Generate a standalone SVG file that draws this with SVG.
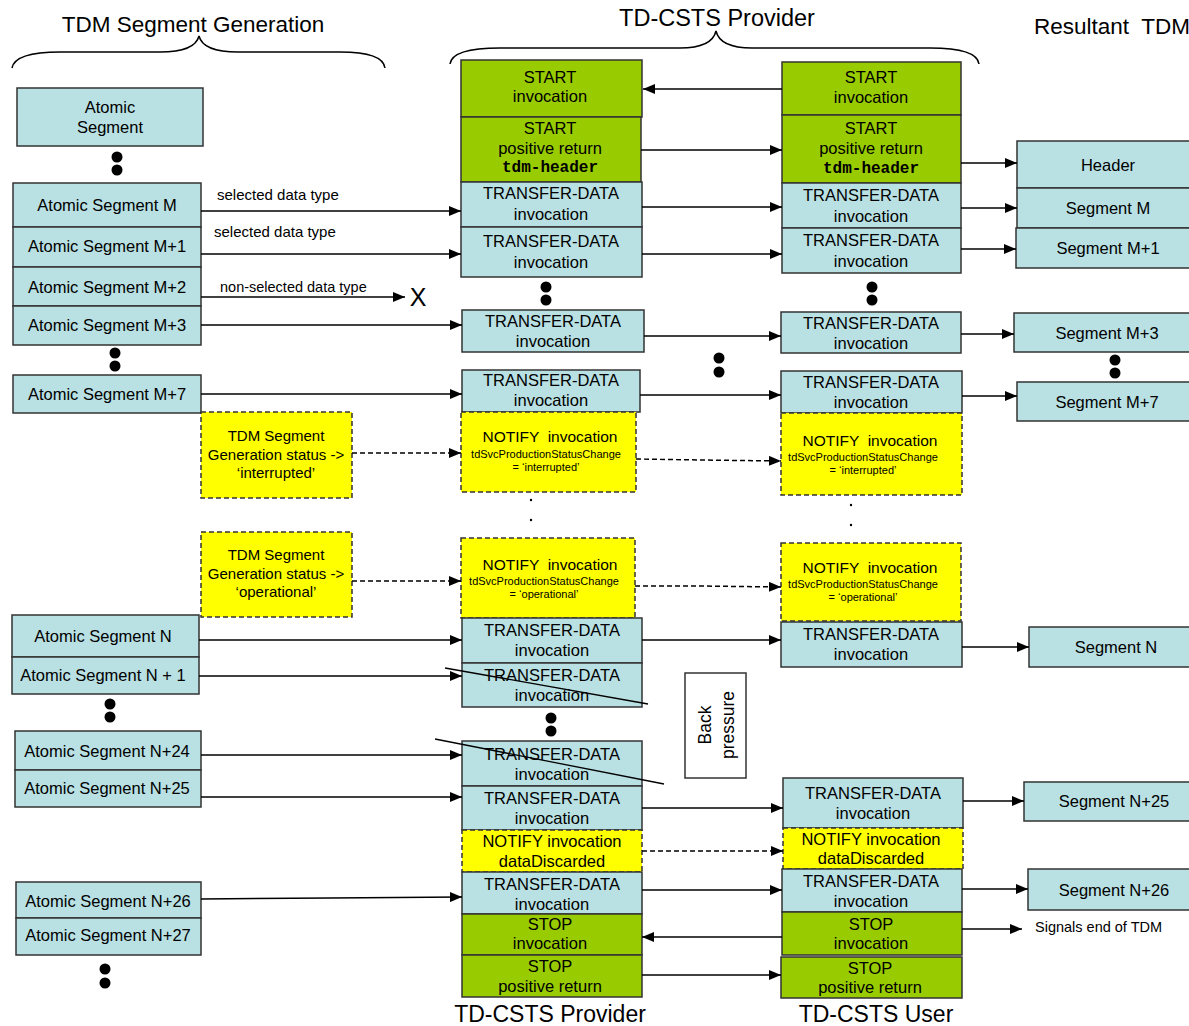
<svg xmlns="http://www.w3.org/2000/svg" width="1189" height="1026" viewBox="0 0 1189 1026">
<style>
text{font-family:"Liberation Sans",Arial,sans-serif;fill:#000}
.b{fill:#B9E0E3;stroke:#333;stroke-width:1.5}
.g{fill:#99CC00;stroke:#333;stroke-width:1.5}
.y{fill:#FFFF00;stroke:#333;stroke-width:1.5;stroke-dasharray:5,3}
.t{font-size:16.5px;text-anchor:middle}
.n{font-size:15.5px;text-anchor:middle}
.s{font-size:15px}
.sm{font-size:11px;text-anchor:middle}
.h{font-size:22.5px;text-anchor:middle}
.mono{font-family:"Liberation Mono","Courier New",monospace;font-weight:bold;font-size:16px;text-anchor:middle}
.a{stroke:#000;stroke-width:1.5;fill:none;marker-end:url(#ah)}
.d{stroke:#000;stroke-width:1.5;fill:none;stroke-dasharray:5,3;marker-end:url(#ah)}
.dot{fill:#000}
</style>
<defs>
<marker id="ah" viewBox="0 0 12 10" refX="12" refY="5" markerWidth="12" markerHeight="10" markerUnits="userSpaceOnUse" orient="auto">
<path d="M0,0 L12,5 L0,10 z" fill="#000"/>
</marker>
</defs>
<rect width="1189" height="1026" fill="#fff"/>

<g id="headings">
<text class="h" x="193" y="32">TDM Segment Generation</text>
<text class="h" x="717" y="26" style="font-size:23.5px">TD-CSTS Provider</text>
<text class="h" x="1112" y="34" xml:space="preserve">Resultant  TDM</text>
<path d="M12,68 Q15,52 60,52 L160,52 Q195,52 199,36 Q203,52 238,52 L340,52 Q383,52 385,68" fill="none" stroke="#000" stroke-width="1.5"/>
<path d="M450,64 Q452,48 500,48 L680,48 Q712,48 716,31 Q720,48 752,48 L930,48 Q977,48 979,64" fill="none" stroke="#000" stroke-width="1.5"/>
<text x="550" y="1022" style="font-size:23px;text-anchor:middle">TD-CSTS Provider</text>
<text x="876" y="1022" style="font-size:23px;text-anchor:middle">TD-CSTS User</text>
</g>

<g id="left-column">
<g id="atomic-segment"><rect class="b" x="17" y="88" width="186" height="58"/><text class="t" x="110" y="113">Atomic</text><text class="t" x="110" y="133">Segment</text></g>
<circle class="dot" cx="117" cy="157" r="5.5"/><circle class="dot" cx="117" cy="170" r="5.5"/>
<g id="asM"><rect class="b" x="13" y="183" width="188" height="44"/><text class="t" x="107" y="211">Atomic Segment M</text></g>
<g id="asM1"><rect class="b" x="13" y="227" width="188" height="40"/><text class="t" x="107" y="252">Atomic Segment M+1</text></g>
<g id="asM2"><rect class="b" x="13" y="267" width="188" height="39"/><text class="t" x="107" y="293">Atomic Segment M+2</text></g>
<g id="asM3"><rect class="b" x="13" y="306" width="188" height="39"/><text class="t" x="107" y="331">Atomic Segment M+3</text></g>
<circle class="dot" cx="115" cy="353" r="5.5"/><circle class="dot" cx="115" cy="366" r="5.5"/>
<g id="asM7"><rect class="b" x="13" y="375" width="188" height="38"/><text class="t" x="107" y="400">Atomic Segment M+7</text></g>
<g id="gen-int"><rect class="y" x="201" y="412" width="151" height="86"/><text class="s" x="276" y="441" text-anchor="middle">TDM Segment</text><text class="s" x="276" y="460" text-anchor="middle">Generation status -&gt;</text><text class="s" x="276" y="478" text-anchor="middle">‘interrupted’</text></g>
<g id="gen-op"><rect class="y" x="201" y="532" width="151" height="85"/><text class="s" x="276" y="560" text-anchor="middle">TDM Segment</text><text class="s" x="276" y="579" text-anchor="middle">Generation status -&gt;</text><text class="s" x="276" y="597" text-anchor="middle">‘operational’</text></g>
<g id="asN"><rect class="b" x="12" y="615" width="187" height="42"/><text class="t" x="103" y="642">Atomic Segment N</text></g>
<g id="asN1"><rect class="b" x="12" y="657" width="187" height="37"/><text class="t" x="103" y="681">Atomic Segment N + 1</text></g>
<circle class="dot" cx="110" cy="704" r="5.5"/><circle class="dot" cx="110" cy="717" r="5.5"/>
<g id="asN24"><rect class="b" x="15" y="731" width="186" height="39"/><text class="t" x="107" y="757">Atomic Segment N+24</text></g>
<g id="asN25"><rect class="b" x="15" y="770" width="186" height="37"/><text class="t" x="107" y="794">Atomic Segment N+25</text></g>
<g id="asN26"><rect class="b" x="16" y="882" width="185" height="36"/><text class="t" x="108" y="907">Atomic Segment N+26</text></g>
<g id="asN27"><rect class="b" x="16" y="918" width="185" height="37"/><text class="t" x="108" y="941">Atomic Segment N+27</text></g>
<circle class="dot" cx="105" cy="969" r="5.5"/><circle class="dot" cx="105" cy="983" r="5.5"/>
</g>

<g id="provider">
<g id="p-start"><rect class="g" x="461" y="60" width="181" height="57"/><text class="t" x="550" y="83">START</text><text class="t" x="550" y="102">invocation</text></g>
<g id="p-startret"><rect class="g" x="461" y="117" width="180" height="65"/><text class="t" x="550" y="134">START</text><text class="t" x="550" y="154">positive return</text><text class="mono" x="550" y="172">tdm-header</text></g>
<g id="p-tdM"><rect class="b" x="461" y="182" width="181" height="45"/><text class="t" x="551" y="199">TRANSFER-DATA</text><text class="t" x="551" y="220">invocation</text></g>
<g id="p-tdM1"><rect class="b" x="461" y="227" width="181" height="50"/><text class="t" x="551" y="247">TRANSFER-DATA</text><text class="t" x="551" y="268">invocation</text></g>
<circle class="dot" cx="546" cy="287" r="5.5"/><circle class="dot" cx="546" cy="300" r="5.5"/>
<g id="p-tdM3"><rect class="b" x="462" y="310" width="182" height="42"/><text class="t" x="553" y="327">TRANSFER-DATA</text><text class="t" x="553" y="347">invocation</text></g>
<g id="p-tdM7"><rect class="b" x="462" y="370" width="178" height="42"/><text class="t" x="551" y="386">TRANSFER-DATA</text><text class="t" x="551" y="406">invocation</text></g>
<g id="p-notint"><rect class="y" x="461" y="412" width="175" height="80"/><text class="n" x="550" y="442" xml:space="preserve">NOTIFY  invocation</text><text class="sm" x="546" y="458">tdSvcProductionStatusChange</text><text class="sm" x="546" y="471">= ‘interrupted’</text></g>
<circle class="dot" cx="531" cy="500" r="1.2"/><circle class="dot" cx="531" cy="520" r="1.2"/>
<g id="p-notop"><rect class="y" x="461" y="538" width="174" height="80"/><text class="n" x="550" y="570" xml:space="preserve">NOTIFY  invocation</text><text class="sm" x="544" y="585">tdSvcProductionStatusChange</text><text class="sm" x="544" y="598">= ‘operational’</text></g>
<g id="p-tdN"><rect class="b" x="462" y="618" width="180" height="45"/><text class="t" x="552" y="636">TRANSFER-DATA</text><text class="t" x="552" y="656">invocation</text></g>
<g id="p-tdN1"><rect class="b" x="462" y="663" width="180" height="44"/><text class="t" x="552" y="681">TRANSFER-DATA</text><text class="t" x="552" y="701">invocation</text></g>
<circle class="dot" cx="551" cy="718" r="5.5"/><circle class="dot" cx="551" cy="731" r="5.5"/>
<g id="p-tdN24"><rect class="b" x="462" y="741" width="180" height="45"/><text class="t" x="552" y="760">TRANSFER-DATA</text><text class="t" x="552" y="780">invocation</text></g>
<g id="p-tdN25"><rect class="b" x="462" y="786" width="180" height="44"/><text class="t" x="552" y="804">TRANSFER-DATA</text><text class="t" x="552" y="824">invocation</text></g>
<g id="p-notdd"><rect class="y" x="462" y="830" width="180" height="42"/><text class="t" x="552" y="847">NOTIFY invocation</text><text class="t" x="552" y="867">dataDiscarded</text></g>
<g id="p-tdN26"><rect class="b" x="462" y="872" width="180" height="42"/><text class="t" x="552" y="890">TRANSFER-DATA</text><text class="t" x="552" y="910">invocation</text></g>
<g id="p-stop"><rect class="g" x="462" y="914" width="180" height="41"/><text class="t" x="550" y="930">STOP</text><text class="t" x="550" y="949">invocation</text></g>
<g id="p-stopret"><rect class="g" x="462" y="955" width="180" height="42"/><text class="t" x="550" y="972">STOP</text><text class="t" x="550" y="992">positive return</text></g>
</g>

<g id="user">
<g id="u-start"><rect class="g" x="782" y="62" width="179" height="53"/><text class="t" x="871" y="83">START</text><text class="t" x="871" y="103">invocation</text></g>
<g id="u-startret"><rect class="g" x="782" y="115" width="179" height="68"/><text class="t" x="871" y="134">START</text><text class="t" x="871" y="154">positive return</text><text class="mono" x="871" y="173">tdm-header</text></g>
<g id="u-tdM"><rect class="b" x="782" y="183" width="179" height="45"/><text class="t" x="871" y="201">TRANSFER-DATA</text><text class="t" x="871" y="222">invocation</text></g>
<g id="u-tdM1"><rect class="b" x="782" y="228" width="179" height="45"/><text class="t" x="871" y="246">TRANSFER-DATA</text><text class="t" x="871" y="267">invocation</text></g>
<circle class="dot" cx="872" cy="287" r="5.5"/><circle class="dot" cx="872" cy="300" r="5.5"/>
<circle class="dot" cx="719" cy="358" r="5.5"/><circle class="dot" cx="719" cy="372" r="5.5"/>
<g id="u-tdM3"><rect class="b" x="781" y="312" width="180" height="41"/><text class="t" x="871" y="329">TRANSFER-DATA</text><text class="t" x="871" y="349">invocation</text></g>
<g id="u-tdM7"><rect class="b" x="781" y="371" width="181" height="42"/><text class="t" x="871" y="388">TRANSFER-DATA</text><text class="t" x="871" y="408">invocation</text></g>
<g id="u-notint"><rect class="y" x="781" y="413" width="181" height="82"/><text class="n" x="870" y="446" xml:space="preserve">NOTIFY  invocation</text><text class="sm" x="863" y="461">tdSvcProductionStatusChange</text><text class="sm" x="863" y="474">= ‘interrupted’</text></g>
<circle class="dot" cx="851" cy="505" r="1.2"/><circle class="dot" cx="851" cy="525" r="1.2"/>
<g id="u-notop"><rect class="y" x="781" y="543" width="180" height="78"/><text class="n" x="870" y="573" xml:space="preserve">NOTIFY  invocation</text><text class="sm" x="863" y="588">tdSvcProductionStatusChange</text><text class="sm" x="863" y="601">= ‘operational’</text></g>
<g id="u-tdN"><rect class="b" x="781" y="622" width="181" height="45"/><text class="t" x="871" y="640">TRANSFER-DATA</text><text class="t" x="871" y="660">invocation</text></g>
<g id="back-pressure"><rect x="685" y="673" width="61" height="105" fill="#fff" stroke="#333" stroke-width="1.5"/><g transform="translate(715,725) rotate(-90)"><text class="t" x="0" y="-4" style="font-size:17.5px">Back</text><text class="t" x="0" y="19" style="font-size:17.5px">pressure</text></g></g>
<g id="u-tdN25"><rect class="b" x="783" y="778" width="180" height="50"/><text class="t" x="873" y="799">TRANSFER-DATA</text><text class="t" x="873" y="819">invocation</text></g>
<g id="u-notdd"><rect class="y" x="783" y="828" width="180" height="41"/><text class="t" x="871" y="845">NOTIFY invocation</text><text class="t" x="871" y="864">dataDiscarded</text></g>
<g id="u-tdN26"><rect class="b" x="782" y="869" width="180" height="43"/><text class="t" x="871" y="887">TRANSFER-DATA</text><text class="t" x="871" y="907">invocation</text></g>
<g id="u-stop"><rect class="g" x="782" y="912" width="180" height="43"/><text class="t" x="871" y="930">STOP</text><text class="t" x="871" y="949">invocation</text></g>
<g id="u-stopret"><rect class="g" x="781" y="957" width="181" height="41"/><text class="t" x="870" y="974">STOP</text><text class="t" x="870" y="993">positive return</text></g>
</g>

<g id="result">
<g id="r-header"><rect class="b" x="1017" y="141" width="185" height="47"/><text class="t" x="1108" y="171">Header</text></g>
<g id="r-M"><rect class="b" x="1017" y="188" width="185" height="40"/><text class="t" x="1108" y="214">Segment M</text></g>
<g id="r-M1"><rect class="b" x="1016" y="228" width="186" height="40"/><text class="t" x="1108" y="254">Segment M+1</text></g>
<g id="r-M3"><rect class="b" x="1014" y="313" width="188" height="39"/><text class="t" x="1107" y="339">Segment M+3</text></g>
<circle class="dot" cx="1115" cy="360" r="5.5"/><circle class="dot" cx="1115" cy="373" r="5.5"/>
<g id="r-M7"><rect class="b" x="1017" y="382" width="185" height="39"/><text class="t" x="1107" y="408">Segment M+7</text></g>
<g id="r-N"><rect class="b" x="1029" y="627" width="173" height="40"/><text class="t" x="1116" y="653">Segment N</text></g>
<g id="r-N25"><rect class="b" x="1024" y="782" width="178" height="39"/><text class="t" x="1114" y="807">Segment N+25</text></g>
<g id="r-N26"><rect class="b" x="1028" y="869" width="174" height="41"/><text class="t" x="1114" y="896">Segment N+26</text></g>
<text x="1035" y="932" style="font-size:14.5px">Signals end of TDM</text>
</g>

<g id="connectors">
<line class="a" x1="782" y1="89" x2="643" y2="89"/>
<line class="a" x1="641" y1="150" x2="782" y2="150"/>
<line class="a" x1="961" y1="163" x2="1017" y2="163"/>
<line class="a" x1="201" y1="211" x2="461" y2="211"/>
<text class="s" x="217" y="200">selected data type</text>
<line class="a" x1="201" y1="254" x2="461" y2="254"/>
<text class="s" x="214" y="237">selected data type</text>
<line class="a" x1="201" y1="297" x2="405" y2="297"/>
<text x="220" y="292" style="font-size:14.5px">non-selected data type</text>
<text x="418" y="306" style="font-size:25px;text-anchor:middle">X</text>
<line class="a" x1="201" y1="325" x2="462" y2="325"/>
<line class="a" x1="201" y1="394" x2="462" y2="394"/>
<line class="a" x1="642" y1="207" x2="782" y2="207"/>
<line class="a" x1="642" y1="254" x2="782" y2="254"/>
<line class="a" x1="961" y1="208" x2="1017" y2="208"/>
<line class="a" x1="961" y1="249" x2="1016" y2="249"/>
<line class="a" x1="644" y1="336" x2="781" y2="336"/>
<line class="a" x1="961" y1="334" x2="1014" y2="334"/>
<line class="a" x1="640" y1="395" x2="781" y2="395"/>
<line class="a" x1="962" y1="396" x2="1017" y2="396"/>
<line class="d" x1="352" y1="453" x2="461" y2="453"/>
<polyline class="d" points="636,459 700,460 781,461"/>
<line class="d" x1="352" y1="581" x2="461" y2="581"/>
<polyline class="d" points="635,586 700,586 781,587"/>
<line class="a" x1="199" y1="640" x2="462" y2="640"/>
<line class="a" x1="642" y1="640" x2="781" y2="640"/>
<line class="a" x1="962" y1="647" x2="1029" y2="647"/>
<line class="a" x1="199" y1="676" x2="462" y2="676"/>
<line class="a" x1="201" y1="755" x2="462" y2="755"/>
<line class="a" x1="201" y1="797" x2="462" y2="797"/>
<line class="a" x1="642" y1="808" x2="783" y2="808"/>
<line class="a" x1="963" y1="801" x2="1024" y2="801"/>
<line class="d" x1="642" y1="851" x2="783" y2="851"/>
<polyline class="a" points="201,899 330,898 462,897"/>
<line class="a" x1="642" y1="890" x2="782" y2="890"/>
<line class="a" x1="962" y1="889" x2="1028" y2="889"/>
<line class="a" x1="782" y1="937" x2="642" y2="937"/>
<line class="a" x1="962" y1="929" x2="1022" y2="929"/>
<line class="a" x1="642" y1="975" x2="781" y2="975"/>
<line x1="445" y1="668" x2="648" y2="704" stroke="#000" stroke-width="1.3"/>
<line x1="435" y1="739" x2="664" y2="784" stroke="#000" stroke-width="1.3"/>
</g>
</svg>
